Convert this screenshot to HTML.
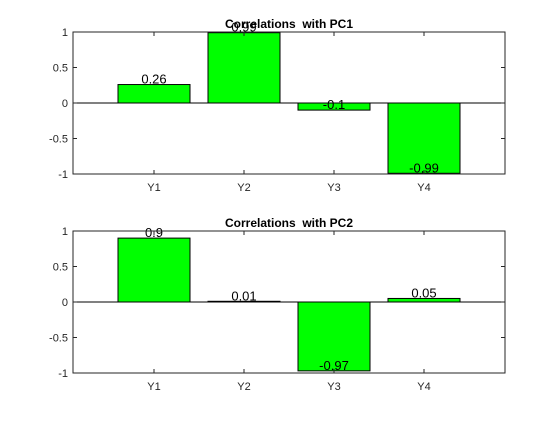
<!DOCTYPE html>
<html><head><meta charset="utf-8"><style>
body{margin:0;background:#fff;font-family:"Liberation Sans",sans-serif;}
svg text{font-family:"Liberation Sans",sans-serif;}
</style></head><body>
<svg id="c" width="560" height="420"></svg>
<script>
const categories=["Y1","Y2","Y3","Y4"];
const pc1Values=[0.26,0.99,-0.1,-0.99];
const pc2Values=[0.9,0.01,-0.97,0.05];
const yTicks=[-1,-0.5,0,0.5,1];
const titles=["Correlations\u00a0 with PC1","Correlations\u00a0 with PC2"];
const svg=document.getElementById('c');
const NS='http://www.w3.org/2000/svg';
function mk(t,a,p){const e=document.createElementNS(NS,t);for(const k in a)e.setAttribute(k,a[k]);(p||svg).appendChild(e);return e;}
function drawPanel(top,bottom,values,title,idx){
  const L=73,R=505;
  const g=mk('g',{});
  
  
  const x=v=>L+(v-0.1)/4.8*(R-L);
  const y=v=>top+(1-v)/2*(bottom-top);
  values.forEach((v,i)=>{
    const y0=y(0),y1=y(v);
    const r=mk('rect',{x:x(i+1-0.4),y:Math.min(y0,y1),width:x(i+1.4)-x(i+0.6),height:Math.abs(y1-y0),fill:'#00ff00',stroke:'#000','stroke-width':1},g);
    
    
    const t=mk('text',{x:x(i+1),y:y(v)-1,'text-anchor':'middle','font-size':13,fill:'#000'},g);
    t.textContent=String(v).replace('.',v===-0.99?',':'.');
    
    
  });
  mk('line',{x1:L,x2:R,y1:y(0),y2:y(0),stroke:'#000','stroke-width':1},g);
  mk('rect',{x:L,y:top,width:R-L,height:bottom-top,fill:'none',stroke:'#262626','stroke-width':1},g);
  yTicks.forEach(v=>{
    mk('line',{x1:L,x2:L+4,y1:y(v),y2:y(v),stroke:'#262626'},g);
    mk('line',{x1:R,x2:R-4,y1:y(v),y2:y(v),stroke:'#262626'},g);
    const t=mk('text',{x:L-5,y:y(v)+4,'text-anchor':'end','font-size':11,fill:'#262626'},g);
    t.textContent=String(v);
    
    
  });
  categories.forEach((c,i)=>{
    mk('line',{x1:x(i+1),x2:x(i+1),y1:bottom,y2:bottom-4,stroke:'#262626'},g);
    mk('line',{x1:x(i+1),x2:x(i+1),y1:top,y2:top+4,stroke:'#262626'},g);
    const t=mk('text',{x:x(i+1),y:bottom+17,'text-anchor':'middle','font-size':11,fill:'#262626'},g);
    t.textContent=c;
    
    
  });
  const tt=mk('text',{x:(L+R)/2,y:top-4,'text-anchor':'middle','font-size':12,'font-weight':'bold',fill:'#000'},g);
  tt.textContent=title;
  
  
}
drawPanel(32,174,pc1Values,titles[0],0);
drawPanel(231,373,pc2Values,titles[1],1);
</script>
</body></html>
